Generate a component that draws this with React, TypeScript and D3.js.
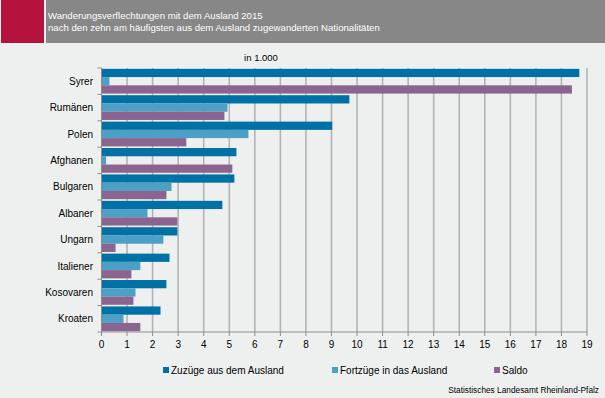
import React, { useEffect, useRef } from 'react';
import * as d3 from 'd3';

const categories = ['Syrer', 'Rumänen', 'Polen', 'Afghanen', 'Bulgaren', 'Albaner', 'Ungarn', 'Italiener', 'Kosovaren', 'Kroaten'];
const zuzuege = [18.7, 9.7, 9.03, 5.28, 5.2, 4.73, 2.97, 2.66, 2.54, 2.31];
const fortzuege = [0.31, 4.93, 5.75, 0.18, 2.74, 1.8, 2.42, 1.52, 1.33, 0.86];
const saldo = [18.41, 4.81, 3.32, 5.12, 2.54, 2.97, 0.55, 1.17, 1.25, 1.52];
const seriesNames = ['Zuzüge aus dem Ausland', 'Fortzüge in das Ausland', 'Saldo'];
const seriesColors = ['#0071a4', '#4c9fc5', '#8b6590'];
const xTicks = d3.range(0, 20);

const W = 605;
const H = 398;
const FONT = 'Liberation Sans, Arial, sans-serif';

const App: React.FC = () => {
  const svgRef = useRef<SVGSVGElement>(null);

  useEffect(() => {
    if (!svgRef.current) return;
    const svg = d3.select(svgRef.current);
    svg.selectAll('*').remove();

    svg.append('rect').attr('width', W).attr('height', H).attr('fill', '#eef0ef');

    // header
    svg.append('rect').attr('x', 1).attr('y', 0).attr('width', 43).attr('height', 43).attr('fill', '#b5123e');
    svg.append('rect').attr('x', 46).attr('y', 0).attr('width', W - 46).attr('height', 43).attr('fill', '#878787');
    svg.append('text').attr('x', 48).attr('y', 19).attr('fill', '#fff')
      .attr('font-family', FONT).attr('font-size', 9.6).text('Wanderungsverflechtungen mit dem Ausland 2015');
    svg.append('text').attr('x', 48).attr('y', 31).attr('fill', '#fff')
      .attr('font-family', FONT).attr('font-size', 9.6).text('nach den zehn am häufigsten aus dem Ausland zugewanderten Nationalitäten');

    svg.append('text').attr('x', 261).attr('y', 61).attr('text-anchor', 'middle')
      .attr('font-family', FONT).attr('font-size', 9.5).attr('fill', '#000').text('in 1.000');

    const x = d3.scaleLinear().domain([0, 19]).range([101.5, 587]);
    const y = d3.scaleBand<string>().domain(categories).range([68, 332]);
    const inner = d3.scaleBand<number>().domain([0, 1, 2]).range([0, y.bandwidth()]).paddingOuter(0.1);

    // gridlines
    svg.append('g').selectAll('line').data(xTicks.filter(t => t > 0)).enter().append('line')
      .attr('x1', d => x(d)).attr('x2', d => x(d))
      .attr('y1', 68).attr('y2', 332)
      .attr('stroke', '#b4b4b4').attr('stroke-width', 1.6);

    const values = [zuzuege, fortzuege, saldo];
    values.forEach((vals, si) => {
      svg.append('g').selectAll('rect').data(vals).enter().append('rect')
        .attr('x', x(0))
        .attr('y', (_, i) => (y(categories[i]) as number) + (inner(si) as number))
        .attr('width', d => x(d) - x(0))
        .attr('height', inner.bandwidth())
        .attr('fill', seriesColors[si]);
    });

    // y axis
    const axisColor = '#8c8c8c';
    svg.append('line').attr('x1', x(0)).attr('x2', x(0)).attr('y1', 68).attr('y2', 332)
      .attr('stroke', axisColor).attr('stroke-width', 1);
    const bounds = d3.range(0, categories.length + 1).map(i => 68 + i * y.step());
    svg.append('g').selectAll('line').data(bounds).enter().append('line')
      .attr('x1', x(0) - 4).attr('x2', x(0)).attr('y1', d => d).attr('y2', d => d)
      .attr('stroke', axisColor).attr('stroke-width', 1);
    svg.append('g').selectAll('text').data(categories).enter().append('text')
      .attr('x', 93).attr('y', d => (y(d) as number) + y.bandwidth() / 2 + 3.5)
      .attr('text-anchor', 'end').attr('font-family', FONT).attr('font-size', 10).attr('fill', '#000')
      .text(d => d);

    // x axis
    svg.append('line').attr('x1', x(0)).attr('x2', x(19)).attr('y1', 332).attr('y2', 332)
      .attr('stroke', axisColor).attr('stroke-width', 1);
    svg.append('g').selectAll('line').data(xTicks).enter().append('line')
      .attr('x1', d => x(d)).attr('x2', d => x(d)).attr('y1', 332).attr('y2', 336)
      .attr('stroke', axisColor).attr('stroke-width', 1);
    svg.append('g').selectAll('text').data(xTicks).enter().append('text')
      .attr('x', d => x(d)).attr('y', 348).attr('text-anchor', 'middle')
      .attr('font-family', FONT).attr('font-size', 10).attr('fill', '#000')
      .text(d => String(d));

    // legend
    const legendX = [163, 332, 494];
    seriesNames.forEach((name, i) => {
      svg.append('rect').attr('x', legendX[i]).attr('y', 367).attr('width', 6).attr('height', 6)
        .attr('fill', seriesColors[i]);
      svg.append('text').attr('x', legendX[i] + 8).attr('y', 374)
        .attr('font-family', FONT).attr('font-size', 10).attr('fill', '#000').text(name);
    });

    svg.append('text').attr('x', 599).attr('y', 393).attr('text-anchor', 'end')
      .attr('font-family', FONT).attr('font-size', 8.3).attr('fill', '#000')
      .text('Statistisches Landesamt Rheinland-Pfalz');
  }, []);

  return <svg ref={svgRef} width={W} height={H} style={{ display: 'block', position: 'absolute', left: 0, top: 0 }} />;
};

export default App;
